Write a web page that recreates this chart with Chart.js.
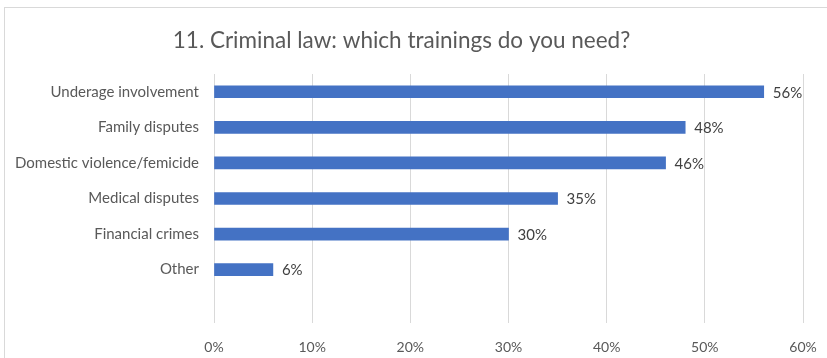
<!DOCTYPE html>
<html>
<head>
<meta charset="utf-8">
<script src="https://cdn.jsdelivr.net/npm/chart.js@4"></script>
<style>
  html, body { margin: 0; padding: 0; background: #fff; overflow: hidden; }
  #frame {
    position: absolute; left: 4px; top: 7px; width: 840px; height: 380px;
    border: 1px solid #d9d9d9; box-sizing: border-box;
  }
  #wrap { position: absolute; left: 0; top: 0; width: 827px; height: 358px; }
</style>
</head>
<body>
<div id="frame"></div>
<div id="wrap"><canvas id="chart" width="827" height="358"></canvas></div>
<script>
const title = "11. Criminal law: which trainings do you need?";
// last slot is an empty row left in the sheet
const categories = ["Underage involvement", "Family disputes", "Domestic violence/femicide",
  "Medical disputes", "Financial crimes", "Other", ""];
const shares = [56, 48, 46, 35, 30, 6, null];
const tickValues = [0, 10, 20, 30, 40, 50, 60];

const FONT = "Lato, 'Open Sans', sans-serif";
const GREY = "#595959";

// percent labels at the end of each bar
const valueLabels = {
  id: "valueLabels",
  afterDatasetsDraw(chart) {
    const ctx = chart.ctx;
    const meta = chart.getDatasetMeta(0);
    ctx.save();
    ctx.font = "15px " + FONT;
    ctx.fillStyle = "#404040";
    ctx.textAlign = "left";
    ctx.textBaseline = "middle";
    meta.data.forEach((bar, i) => {
      if (shares[i] == null) return;
      ctx.fillText(shares[i] + "%", bar.x + 9, bar.y + 1);
    });
    ctx.restore();
  }
};

const ctx = document.getElementById("chart").getContext("2d");
new Chart(ctx, {
  type: "bar",
  data: {
    labels: categories,
    datasets: [{
      data: shares,
      backgroundColor: "#4472C4",
      barThickness: 12,
      categoryPercentage: 1,
      barPercentage: 1
    }]
  },
  options: {
    indexAxis: "y",
    animation: false,
    responsive: false,
    layout: { padding: { left: 0, right: 24, top: 0, bottom: 0 } },
    plugins: {
      legend: { display: false },
      tooltip: { enabled: false },
      title: {
        display: true,
        text: title,
        color: GREY,
        font: { family: FONT, size: 22.5, weight: "normal", lineHeight: 1.2 },
        padding: { top: 27, bottom: 20 }
      }
    },
    scales: {
      x: {
        min: 0,
        max: 60,
        afterBuildTicks(scale) {
          scale.ticks = tickValues.map(v => ({ value: v }));
        },
        afterFit(scale) {
          scale.height = 35;
          scale.paddingLeft = 0;
          scale.paddingRight = 0;
        },
        grid: { color: "#d9d9d9", lineWidth: 1, drawTicks: false },
        border: { display: false },
        ticks: {
          color: GREY,
          padding: 16,
          font: { family: FONT, size: 14 },
          callback: v => v + "%"
        }
      },
      y: {
        afterFit(scale) { scale.width = 214; },
        grid: { display: false, drawTicks: false },
        border: { display: false },
        ticks: {
          color: GREY,
          padding: 15,
          font: { family: FONT, size: 15 }
        }
      }
    }
  },
  plugins: [valueLabels]
});
</script>
</body>
</html>
